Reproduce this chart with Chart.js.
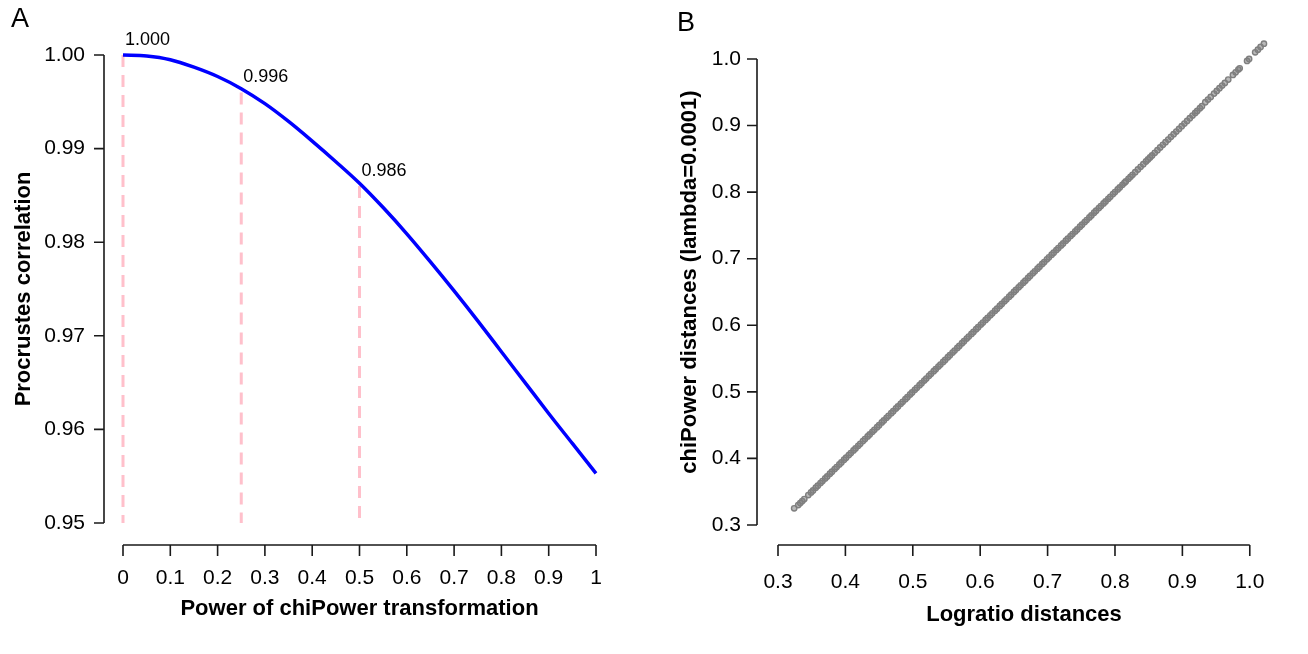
<!DOCTYPE html>
<html>
<head>
<meta charset="utf-8">
<script src="https://cdn.jsdelivr.net/npm/chart.js@4/dist/chart.umd.min.js"></script>
<style>
  body { margin: 0; background: #fff; }
  #wrap { position: relative; width: 1308px; height: 654px; }
  canvas { position: absolute; top: 0; }
  .panel { position: absolute; font-family: "Liberation Sans", Arial, sans-serif; font-size: 27px; color: #000; }
</style>
</head>
<body>
<div id="wrap">
  <canvas id="chartA" width="654" height="654" style="left:0"></canvas>
  <canvas id="chartB" width="654" height="654" style="left:654px"></canvas>
  <div class="panel" style="left:11px;top:3px">A</div>
  <div class="panel" style="left:677px;top:7px">B</div>
</div>
<script>
// panel A: procrustes correlation vs power
var powerValues = [0, 0.05, 0.1, 0.15, 0.2, 0.25, 0.3, 0.35, 0.4, 0.45, 0.5,
                   0.55, 0.6, 0.65, 0.7, 0.75, 0.8, 0.85, 0.9, 0.95, 1];
var corrValues = [1.0000, 0.9999, 0.9995, 0.9987, 0.9977, 0.9964, 0.9948, 0.9929, 0.9908, 0.9886, 0.9863,
                  0.9837, 0.9809, 0.9779, 0.9748, 0.9716, 0.9683, 0.9650, 0.9617, 0.9585, 0.9553];
var markPowers = [0, 0.25, 0.5];
var markCorr = [1.000, 0.996, 0.986];
var powerTicks = [0, 0.1, 0.2, 0.3, 0.4, 0.5, 0.6, 0.7, 0.8, 0.9, 1];
var powerTickLabels = ['0', '0.1', '0.2', '0.3', '0.4', '0.5', '0.6', '0.7', '0.8', '0.9', '1'];
var corrTicks = [0.95, 0.96, 0.97, 0.98, 0.99, 1.00];
var corrTickLabels = ['0.95', '0.96', '0.97', '0.98', '0.99', '1.00'];

// panel B: chiPower vs logratio distances
var logratioDist = [0.324, 0.330, 0.333, 0.336, 0.339, 0.345,
  0.349, 0.352, 0.356, 0.359, 0.363, 0.366, 0.370, 0.373, 0.377, 0.380, 0.384, 0.387, 0.391, 0.394,
  0.398, 0.401, 0.405, 0.408, 0.412, 0.415, 0.419, 0.422, 0.426, 0.429, 0.433, 0.436, 0.440, 0.443,
  0.447, 0.450, 0.454, 0.457, 0.461, 0.464, 0.468, 0.471, 0.475, 0.478, 0.482, 0.485, 0.489, 0.492,
  0.496, 0.499, 0.503, 0.506, 0.510, 0.513, 0.517, 0.520, 0.524, 0.527, 0.531, 0.534, 0.538, 0.541,
  0.545, 0.548, 0.552, 0.555, 0.559, 0.562, 0.566, 0.569, 0.573, 0.576, 0.580, 0.583, 0.587, 0.590,
  0.594, 0.597, 0.601, 0.604, 0.608, 0.611, 0.615, 0.618, 0.622, 0.625, 0.629, 0.632, 0.636, 0.639,
  0.643, 0.646, 0.650, 0.653, 0.657, 0.660, 0.664, 0.667, 0.671, 0.674, 0.678, 0.681, 0.685, 0.688,
  0.692, 0.695, 0.699, 0.702, 0.706, 0.709, 0.713, 0.716, 0.720, 0.723, 0.727, 0.730, 0.734, 0.737,
  0.741, 0.744, 0.748, 0.751, 0.755, 0.758, 0.762, 0.765, 0.769, 0.772, 0.776, 0.779, 0.783, 0.786,
  0.790, 0.793, 0.797, 0.800, 0.804, 0.807, 0.811, 0.814, 0.816,
  0.820, 0.823, 0.826, 0.830, 0.834, 0.838, 0.842, 0.846, 0.849,
  0.852, 0.855, 0.859, 0.863, 0.867, 0.871, 0.875, 0.879,
  0.883, 0.887, 0.891, 0.895, 0.899, 0.903, 0.907, 0.911, 0.915, 0.919,
  0.922, 0.926, 0.929,
  0.934, 0.938, 0.942, 0.947, 0.951, 0.955, 0.959, 0.963, 0.968,
  0.975, 0.979, 0.983, 0.985,
  0.996, 0.999,
  1.008, 1.012, 1.016, 1.021];
var chiPowerDist = [0.325, 0.330, 0.333, 0.336, 0.339, 0.345,
  0.349, 0.352, 0.356, 0.359, 0.363, 0.366, 0.370, 0.373, 0.377, 0.380, 0.384, 0.387, 0.391, 0.394,
  0.398, 0.401, 0.405, 0.408, 0.412, 0.415, 0.419, 0.422, 0.426, 0.429, 0.433, 0.436, 0.440, 0.443,
  0.447, 0.450, 0.454, 0.457, 0.461, 0.464, 0.468, 0.471, 0.475, 0.478, 0.482, 0.485, 0.489, 0.492,
  0.496, 0.499, 0.503, 0.506, 0.510, 0.513, 0.517, 0.520, 0.524, 0.527, 0.531, 0.534, 0.538, 0.541,
  0.545, 0.548, 0.552, 0.555, 0.559, 0.562, 0.566, 0.569, 0.573, 0.576, 0.580, 0.583, 0.587, 0.590,
  0.594, 0.597, 0.601, 0.604, 0.608, 0.611, 0.615, 0.618, 0.622, 0.625, 0.629, 0.632, 0.636, 0.639,
  0.643, 0.646, 0.650, 0.653, 0.657, 0.660, 0.664, 0.667, 0.671, 0.674, 0.678, 0.681, 0.685, 0.688,
  0.692, 0.695, 0.699, 0.702, 0.706, 0.709, 0.713, 0.716, 0.720, 0.723, 0.727, 0.730, 0.734, 0.737,
  0.741, 0.744, 0.748, 0.751, 0.755, 0.758, 0.762, 0.765, 0.769, 0.772, 0.776, 0.779, 0.783, 0.786,
  0.790, 0.793, 0.797, 0.800, 0.804, 0.807, 0.811, 0.814, 0.816,
  0.820, 0.823, 0.826, 0.830, 0.834, 0.838, 0.842, 0.846, 0.849,
  0.852, 0.855, 0.859, 0.863, 0.867, 0.871, 0.875, 0.879,
  0.883, 0.887, 0.891, 0.895, 0.899, 0.903, 0.907, 0.911, 0.915, 0.919,
  0.922, 0.926, 0.929,
  0.935, 0.939, 0.943, 0.948, 0.952, 0.956, 0.960, 0.964, 0.969,
  0.976, 0.980, 0.984, 0.986,
  0.997, 1.000,
  1.010, 1.014, 1.018, 1.023];
var distTicks = [0.3, 0.4, 0.5, 0.6, 0.7, 0.8, 0.9, 1.0];
var distTickLabels = ['0.3', '0.4', '0.5', '0.6', '0.7', '0.8', '0.9', '1.0'];

var FONT = '"Liberation Sans", Arial, sans-serif';
Chart.defaults.font.family = FONT;
Chart.defaults.color = '#000';

// R style detached axes, only from first to last tick
var rAxes = {
	id: 'rAxes',
	afterDraw: function (chart, args, opts) {
		var ctx = chart.ctx, area = chart.chartArea;
		var xs = chart.scales.x.ticks.map(function (t) { return chart.scales.x.getPixelForValue(t.value); });
		var ys = chart.scales.y.ticks.map(function (t) { return chart.scales.y.getPixelForValue(t.value); });
		var axY = area.bottom + opts.xGap;
		var axX = xs[0] - opts.yGap;
		ctx.save();
		ctx.strokeStyle = '#1a1a1a';
		ctx.lineWidth = 1.6;
		ctx.beginPath();
		ctx.moveTo(xs[0], axY);
		ctx.lineTo(xs[xs.length - 1], axY);
		xs.forEach(function (px) { ctx.moveTo(px, axY); ctx.lineTo(px, axY + 11); });
		ctx.moveTo(axX, ys[0]);
		ctx.lineTo(axX, ys[ys.length - 1]);
		ys.forEach(function (py) { ctx.moveTo(axX, py); ctx.lineTo(axX - 10, py); });
		ctx.stroke();
		ctx.restore();
	}
};

var markLabels = {
	id: 'markLabels',
	afterDatasetsDraw: function (chart) {
		if (!chart.options.plugins.markLabels.show) return;
		var ctx = chart.ctx;
		ctx.save();
		ctx.font = '18px ' + FONT;
		ctx.fillStyle = '#000';
		ctx.textAlign = 'left';
		ctx.textBaseline = 'middle';
		for (var i = 0; i < markPowers.length; i++) {
			var px = chart.scales.x.getPixelForValue(markPowers[i]);
			var py = chart.scales.y.getPixelForValue(markCorr[i]);
			ctx.fillText(markCorr[i].toFixed(3), px + 2, py - 15);
		}
		ctx.restore();
	}
};

function axisOpts(min, max, tickVals, tickLabels, titleText, pad, titlePad, size, horizontal) {
	return {
		type: 'linear',
		min: min,
		max: max,
		afterBuildTicks: function (s) { s.ticks = tickVals.map(function (v) { return {value: v}; }); },
		afterFit: function (s) {
			if (horizontal) { s.height = size; } else { s.width = size; }
			// the label padding would otherwise push the plot area in
			s.paddingTop = 0; s.paddingBottom = 0; s.paddingLeft = 0; s.paddingRight = 0;
		},
		grid: {display: false, drawTicks: false},
		border: {display: false},
		ticks: {
			autoSkip: false,
			maxRotation: 0,
			padding: pad,
			font: {size: 21},
			color: '#000',
			callback: function (v, i) { return tickLabels[i]; }
		},
		title: {
			display: true,
			text: titleText,
			font: {size: 22, weight: 'bold'},
			color: '#000',
			padding: horizontal ? {top: 0, bottom: titlePad} : {top: titlePad, bottom: 0}
		}
	};
}

var curvePoints = powerValues.map(function (p, i) { return {x: p, y: corrValues[i]}; });
var dashSets = markPowers.map(function (p, i) {
	return {
		data: [{x: p, y: markCorr[i]}, {x: p, y: 0.95}],
		borderColor: '#ffc0cb',
		borderWidth: 3,
		borderDash: [12, 8],
		pointRadius: 0,
		showLine: true,
		clip: false,
		order: 2
	};
});

new Chart(document.getElementById('chartA'), {
	type: 'scatter',
	data: {
		datasets: [{
			data: curvePoints,
			borderColor: '#0000ff',
			borderWidth: 3.5,
			pointRadius: 0,
			showLine: true,
			cubicInterpolationMode: 'monotone',
			clip: false,
			order: 0
		}].concat(dashSets)
	},
	options: {
		responsive: false,
		animation: false,
		devicePixelRatio: 1,
		layout: {padding: {top: 55, right: 58, left: 0, bottom: 0}},
		plugins: {legend: {display: false}, tooltip: {enabled: false}, rAxes: {xGap: 22, yGap: 19}, markLabels: {show: true}},
		scales: {
			x: axisOpts(0, 1, powerTicks, powerTickLabels, 'Power of chiPower transformation', 43, 32, 131, true),
			y: axisOpts(0.95, 1.0, corrTicks, corrTickLabels, 'Procrustes correlation', 38, 11, 123, false)
		}
	},
	plugins: [rAxes, markLabels]
});

var distPoints = logratioDist.map(function (d, i) { return {x: d, y: chiPowerDist[i]}; });

// scales run a little past 1.0 so the last points are inside the plot area; axes stop at 1.0
new Chart(document.getElementById('chartB'), {
	type: 'scatter',
	data: {
		datasets: [{
			data: distPoints,
			borderColor: '#7f7f7f',
			backgroundColor: 'rgba(128,128,128,0.55)',
			pointRadius: 2.7,
			pointBorderWidth: 1.4,
			clip: false
		}]
	},
	options: {
		responsive: false,
		animation: false,
		devicePixelRatio: 1,
		layout: {padding: {top: 39, right: 38, left: 0, bottom: 0}},
		plugins: {legend: {display: false}, tooltip: {enabled: false}, rAxes: {xGap: 20, yGap: 21}, markLabels: {show: false}},
		scales: {
			x: axisOpts(0.3, 1.03, distTicks, distTickLabels, 'Logratio distances', 45, 26, 129, true),
			y: axisOpts(0.3, 1.03, distTicks, distTickLabels, 'chiPower distances (lambda=0.0001)', 37, 23, 124, false)
		}
	},
	plugins: [rAxes, markLabels]
});
</script>
</body>
</html>
